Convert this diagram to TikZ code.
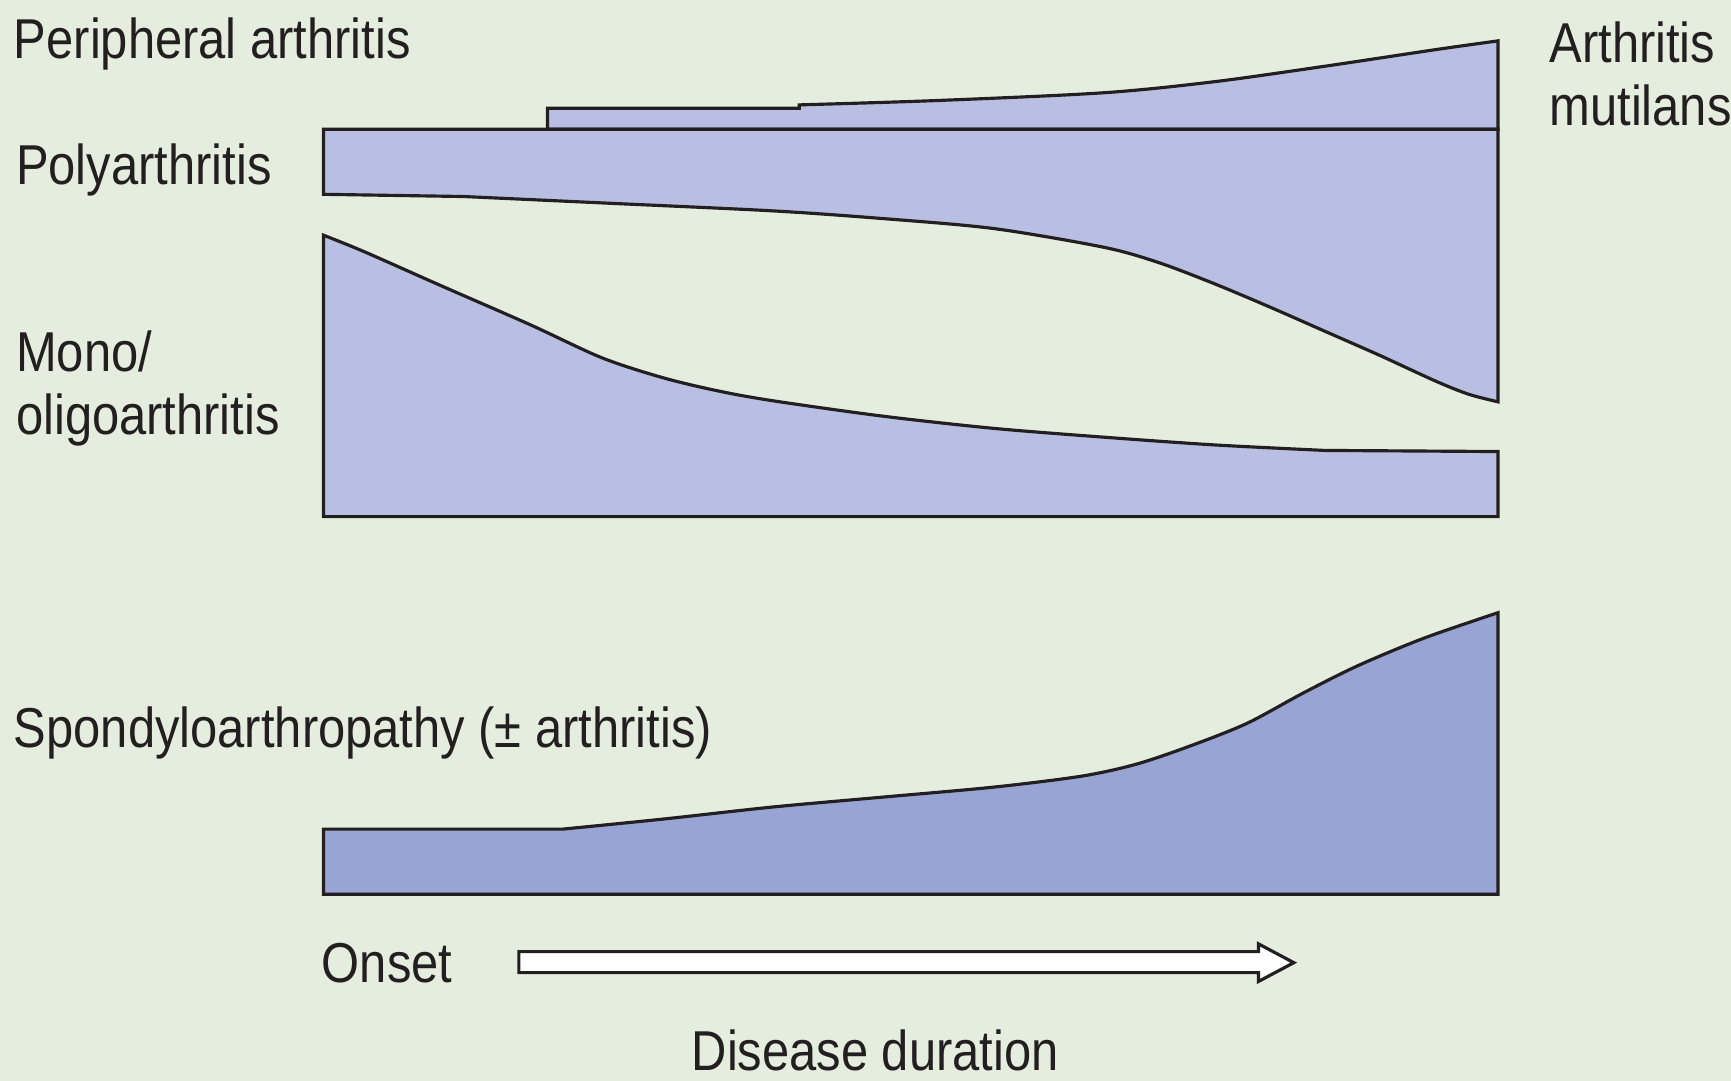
\documentclass[tikz,border=0pt]{standalone}
\usepackage{fontspec}
\setmainfont{Liberation Sans}[FakeStretch=0.87]
\definecolor{bgcol}{HTML}{E5EDDF}
\definecolor{bandcol}{HTML}{B9BFE2}
\definecolor{spondcol}{HTML}{98A5D4}
\definecolor{inkcol}{HTML}{231F20}
\begin{document}
\begin{tikzpicture}[x=0.01104cm, y=-0.01104cm,
  band/.style={draw=inkcol, fill=bandcol, line width=0.9pt, line join=miter},
  lbl/.style={anchor=base west, inner sep=0pt, text=inkcol, font=\fontsize{16}{18}\selectfont},
  lbltwo/.style={anchor=north west, inner sep=0pt, align=left, text=inkcol, font=\fontsize{16}{17.9}\selectfont}]
\fill[bgcol] (0,0) rectangle (1568,979);
\useasboundingbox (0,0) rectangle (1568,979);
\draw[band] (496,117) -- (496,98) -- (724,98) -- plot[smooth] coordinates {(724,95) (850,91) (1000,84) (1100,74) (1200,60) (1300,45) (1357,37)} -- (1357,117) -- cycle;
\draw[band] (293,117) -- (1357,117) -- (1357,364) -- plot[smooth] coordinates {(1357,364) (1330,357) (1300,345) (1250,322) (1200,300) (1150,278) (1100,257) (1050,238) (1000,224) (900,207) (800,198) (700,191) (550,184) (420,178)} -- (293,176) -- cycle;
\draw[band] (293,468) -- (293,213) -- plot[smooth] coordinates {(293,213) (330,228) (400,259) (480,294) (545,324) (600,342) (650,354) (700,363) (800,377) (900,388) (1000,396) (1100,403) (1200,408)} -- (1357,409) -- (1357,468) -- cycle;
\draw[band, fill=spondcol] (293,810) -- (293,751) -- (510,751) -- plot[smooth] coordinates {(510,751) (600,742) (700,731) (800,722) (900,713) (980,703) (1030,692) (1080,675) (1130,655) (1180,628) (1230,603) (1290,578) (1357,555)} -- (1357,810) -- cycle;
\draw[band, fill=white] (470,862) -- (1140,862) -- (1140,855) -- (1172,872) -- (1140,889) -- (1140,881) -- (470,881) -- cycle;
\node[lbl] (periph) at (12,53) {Peripheral arthritis};
\node[lbl] (poly) at (14,167) {Polyarthritis};
\node[lbltwo] (mono) at (14,299) {Mono/\\oligoarthritis};
\node[lbltwo] (mutilans) at (1403,19) {Arthritis\\mutilans};
\node[lbl] (spondy) at (12,677) {Spondyloarthropathy (± arthritis)};
\node[lbl] (onset) at (291,890) {Onset};
\node[lbl] (duration) at (626,970) {Disease duration};
\end{tikzpicture}
\end{document}
